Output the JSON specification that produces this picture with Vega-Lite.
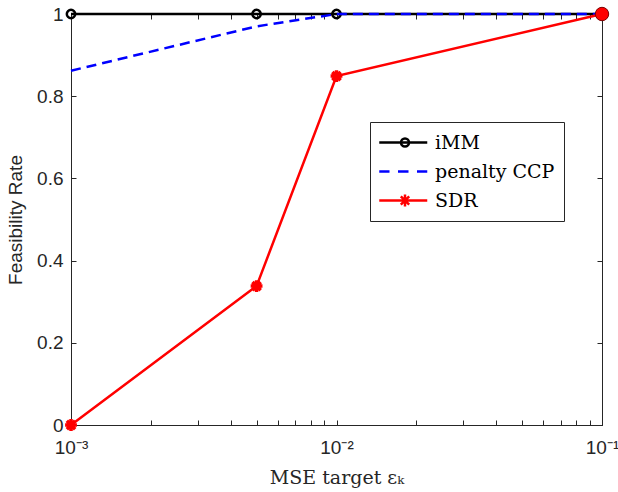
{
  "$schema": "https://vega.github.io/schema/vega-lite/v6.json",
  "width": 531,
  "height": 411,
  "autosize": {"type": "none"},
  "padding": {"left": 71, "top": 14, "right": 16, "bottom": 67},
  "background": "white",
  "config": {
    "view": {"stroke": "#262626", "strokeWidth": 1},
    "axis": {
      "domainColor": "#262626",
      "tickColor": "#262626",
      "labelColor": "#262626",
      "titleColor": "#262626",
      "labelFont": "Liberation Sans",
      "labelFontSize": 19,
      "titleFont": "Liberation Sans",
      "titleFontSize": 19,
      "titleFontWeight": "normal",
      "grid": false,
      "tickSize": -5,
      "tickWidth": 1,
      "domainWidth": 1
    }
  },
  "data": {
    "values": [
      {"x": 0.001, "y": 1, "series": "iMM"},
      {"x": 0.005, "y": 1, "series": "iMM"},
      {"x": 0.01, "y": 1, "series": "iMM"},
      {"x": 0.1, "y": 1, "series": "iMM"},
      {"x": 0.001, "y": 0.862, "series": "penalty CCP"},
      {"x": 0.005, "y": 0.97, "series": "penalty CCP"},
      {"x": 0.01, "y": 1, "series": "penalty CCP"},
      {"x": 0.1, "y": 1, "series": "penalty CCP"},
      {"x": 0.001, "y": 0, "series": "SDR"},
      {"x": 0.005, "y": 0.338, "series": "SDR"},
      {"x": 0.01, "y": 0.849, "series": "SDR"},
      {"x": 0.1, "y": 1, "series": "SDR"}
    ]
  },
  "encoding": {
    "x": {"field": "x", "type": "quantitative", "scale": {"type": "log", "domain": [0.001, 0.1], "nice": false}, "axis": null},
    "y": {"field": "y", "type": "quantitative", "scale": {"domain": [0, 1], "nice": false}, "axis": null}
  },
  "resolve": {"axis": {"x": "independent", "y": "independent"}},
  "layer": [
    {
      "transform": [{"filter": "datum.series == 'iMM'"}],
      "mark": {"type": "line", "color": "#000000", "strokeWidth": 2.5},
      "encoding": {
        "x": {
          "field": "x", "type": "quantitative",
          "scale": {"type": "log", "domain": [0.001, 0.1], "nice": false},
          "axis": {
            "orient": "bottom",
            "values": [0.001, 0.002, 0.003, 0.004, 0.005, 0.006, 0.007, 0.008, 0.009, 0.01, 0.02, 0.03, 0.04, 0.05, 0.06, 0.07, 0.08, 0.09, 0.1],
            "labelExpr": "datum.value == 0.001 ? '10⁻³' : datum.value == 0.01 ? '10⁻²' : datum.value == 0.1 ? '10⁻¹' : ''",
            "labelFlush": false,
            "labelOverlap": false,
            "labelPadding": 18,
            "title": "MSE target εₖ",
            "titleFont": "DejaVu Serif",
            "titleFontSize": 19,
            "titlePadding": 11
          }
        },
        "y": {
          "field": "y", "type": "quantitative",
          "scale": {"domain": [0, 1], "nice": false},
          "axis": {
            "orient": "left",
            "values": [0, 0.2, 0.4, 0.6, 0.8, 1],
            "format": "~g",
            "labelPadding": 13,
            "title": "Feasibility Rate",
            "titlePadding": 11
          }
        }
      }
    },
    {
      "transform": [{"filter": "datum.series == 'iMM'"}],
      "mark": {"type": "point", "shape": "circle", "filled": false, "color": "#000000", "strokeWidth": 2.5, "size": 70, "opacity": 1},
      "encoding": {
        "x": {
          "field": "x", "type": "quantitative",
          "scale": {"type": "log", "domain": [0.001, 0.1], "nice": false},
          "axis": {
            "orient": "top",
            "values": [0.001, 0.002, 0.003, 0.004, 0.005, 0.006, 0.007, 0.008, 0.009, 0.01, 0.02, 0.03, 0.04, 0.05, 0.06, 0.07, 0.08, 0.09, 0.1],
            "labels": false,
            "title": null
          }
        },
        "y": {
          "field": "y", "type": "quantitative",
          "scale": {"domain": [0, 1], "nice": false},
          "axis": {
            "orient": "right",
            "values": [0, 0.2, 0.4, 0.6, 0.8, 1],
            "labels": false,
            "title": null
          }
        }
      }
    },
    {
      "transform": [{"filter": "datum.series == 'penalty CCP'"}],
      "mark": {"type": "line", "color": "#0000ff", "strokeWidth": 2.5, "strokeDash": [10, 6]},
      "encoding": {}
    },
    {
      "transform": [{"filter": "datum.series == 'SDR'"}],
      "mark": {"type": "line", "color": "#ff0000", "strokeWidth": 2.5},
      "encoding": {}
    },
    {
      "transform": [{"filter": "datum.series == 'SDR' && datum.x < 0.05"}],
      "mark": {"type": "point", "shape": "M-1,0H1M0,-1V1M-0.7,-0.7L0.7,0.7M-0.7,0.7L0.7,-0.7", "filled": false, "color": "#ff0000", "strokeWidth": 3.5, "size": 140, "opacity": 1},
      "encoding": {}
    },
    {
      "transform": [{"filter": "datum.series == 'SDR' && datum.x > 0.05"}],
      "mark": {"type": "point", "shape": "circle", "filled": true, "fill": "#ff0000", "stroke": "#7a0000", "strokeWidth": 1, "size": 180, "opacity": 1},
      "encoding": {}
    },
    {
      "transform": [{"filter": "datum.x > 0.05"}],
      "mark": {"type": "point", "filled": false, "opacity": 0, "strokeWidth": 2.5},
      "encoding": {
        "color": {
          "field": "series", "type": "nominal",
          "scale": {"domain": ["iMM", "penalty CCP", "SDR"], "range": ["#000000", "#0000ff", "#ff0000"]},
          "legend": {
            "orient": "none",
            "legendX": 299,
            "legendY": 108,
            "title": null,
            "labelFont": "DejaVu Serif",
            "labelFontSize": 19,
            "labelColor": "#000000",
            "labelOffset": 33,
            "symbolSize": 400,
            "symbolStrokeWidth": 2.5,
            "symbolOpacity": 1,
            "fillColor": "#ffffff",
            "strokeColor": "#262626",
            "padding": 9,
            "rowPadding": 7
          }
        },
        "shape": {
          "field": "series", "type": "nominal",
          "scale": {
            "domain": ["iMM", "penalty CCP", "SDR"],
            "range": [
              "M-1.125,0H3.675M1.05,0A0.4,0.4,0,1,1,1.85,0A0.4,0.4,0,1,1,1.05,0",
              "M-1.125,0H-0.1M0.75,0H1.8M2.65,0H3.675",
              "M-1.125,0H3.675M0.85,0H2.05M1.45,-0.6V0.6M1.03,-0.42L1.87,0.42M1.03,0.42L1.87,-0.42"
            ]
          },
          "legend": {
            "orient": "none",
            "legendX": 299,
            "legendY": 108,
            "title": null
          }
        }
      }
    }
  ]
}
